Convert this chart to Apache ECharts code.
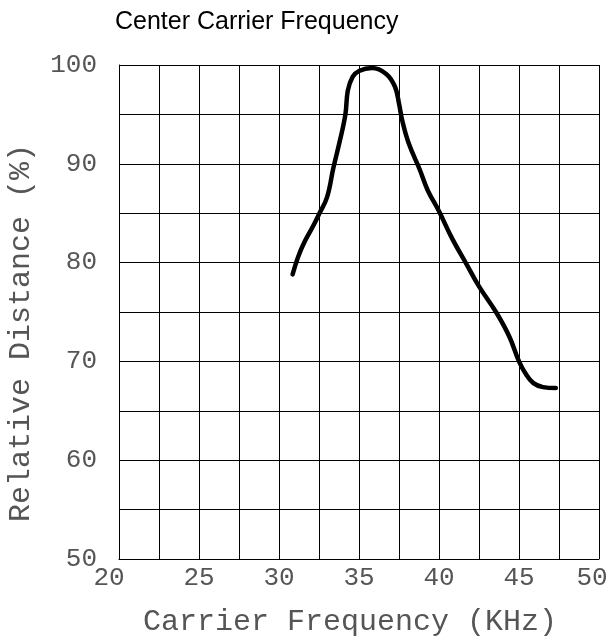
<!DOCTYPE html>
<html>
<head>
<meta charset="utf-8">
<script src="https://cdn.jsdelivr.net/npm/echarts@6/dist/echarts.min.js"></script>
<style>
html,body{margin:0;padding:0;background:#fff;}
#chart{width:612px;height:638px;}
</style>
</head>
<body>
<div id="chart"></div>
<script>
var titleText = "Center Carrier Frequency";
var xAxisName = "Carrier Frequency (KHz)";
var yAxisName = "Relative Distance (%)";
var xTickLabels = [20, 25, 30, 35, 40, 45, 50];
var yTickLabels = [50, 60, 70, 80, 90, 100];
var frequency = [30.85, 31.2, 31.6, 32.1, 32.5, 33.0, 33.4, 33.8, 34.15, 34.3, 34.6, 35.0, 35.8, 36.7, 37.25, 37.5, 37.7, 38.1, 38.8, 39.3, 40.0, 40.8, 41.7, 42.5, 43.6, 44.4, 45.0, 45.4, 45.9, 46.5, 47.3];
var distance  = [78.8, 80.6, 82.1, 83.6, 84.9, 86.6, 89.6, 92.3, 95.0, 97.4, 98.8, 99.4, 99.7, 99.1, 97.8, 96.1, 94.4, 92.1, 89.4, 87.3, 85.2, 82.5, 79.9, 77.6, 74.9, 72.5, 70.0, 68.8, 67.8, 67.4, 67.3];

var points = frequency.map(function (f, i) { return [f, distance[i]]; });
var mono = "Liberation Mono";

var chart = echarts.init(document.getElementById('chart'), null, {renderer: 'canvas'});
chart.setOption({
  animation: false,
  backgroundColor: '#fff',
  title: {
    text: titleText,
    left: 110,
    top: 5,
    textStyle: {fontFamily: 'Liberation Sans', fontSize: 25, fontWeight: 'normal', color: '#000'}
  },
  grid: {left: 119, top: 65, right: 13, bottom: 79, containLabel: false, outerBoundsMode: 'none'},
  xAxis: {
    type: 'value',
    min: 20, max: 50, interval: 2.5,
    name: xAxisName,
    nameLocation: 'middle',
    nameGap: 48,
    nameTextStyle: {fontFamily: mono, fontSize: 30, color: '#555', padding: [0, 18, 0, 0]},
    axisLine: {show: true, lineStyle: {color: '#000', width: 1}},
    axisTick: {show: false},
    splitLine: {show: true, lineStyle: {color: '#000', width: 1}},
    axisLabel: {
      fontFamily: mono, fontSize: 26, color: '#555', margin: 6,
      formatter: function (v) {
        if (xTickLabels.indexOf(v) < 0) return '';
        if (v === xTickLabels[0]) return '{l|' + v + '}';
        if (v === xTickLabels[xTickLabels.length - 1]) return '{r|' + v + '}';
        return String(v);
      },
      rich: {
        l: {fontFamily: mono, fontSize: 26, color: '#555', padding: [0, 20, 0, 0]},
        r: {fontFamily: mono, fontSize: 26, color: '#555', padding: [0, 14, 0, 0]}
      }
    }
  },
  yAxis: {
    type: 'value',
    min: 50, max: 100, interval: 5,
    name: yAxisName,
    nameLocation: 'middle',
    nameGap: 83,
    nameTextStyle: {fontFamily: mono, fontSize: 30, color: '#555', padding: [0, 42, 0, 0]},
    axisLine: {show: true, lineStyle: {color: '#000', width: 1}},
    axisTick: {show: false},
    splitLine: {show: true, lineStyle: {color: '#000', width: 1}},
    axisLabel: {
      fontFamily: mono, fontSize: 26, color: '#555', margin: 22, padding: [0, 0, 5, 0],
      formatter: function (v) { return yTickLabels.indexOf(v) >= 0 ? String(v) : ''; }
    }
  },
  series: [{
    type: 'line',
    data: points,
    smooth: 0.4,
    showSymbol: false,
    symbol: 'none',
    lineStyle: {color: '#000', width: 4.5, cap: 'round', join: 'round'}
  }]
});
</script>
</body>
</html>
